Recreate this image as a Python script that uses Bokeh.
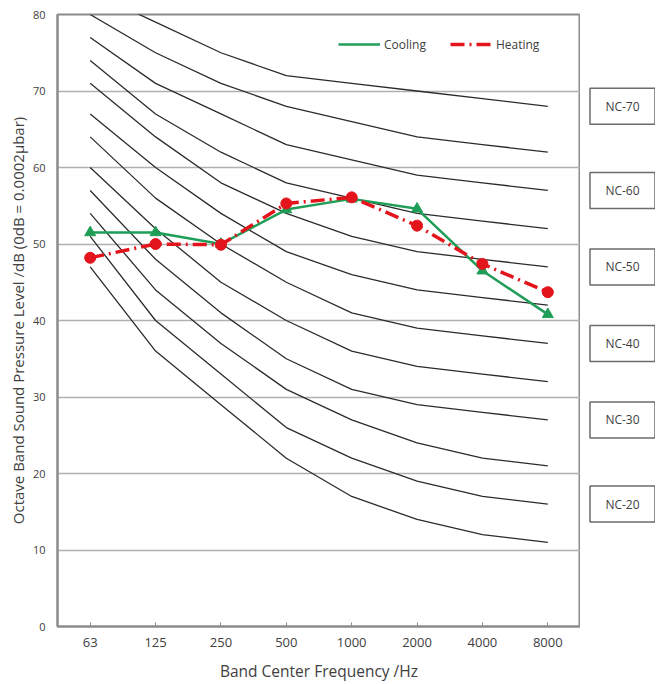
from bokeh.plotting import figure
from bokeh.models import Range1d, FixedTicker, Legend, LegendItem
from bokeh.layouts import row
from bokeh.core.properties import value
from bokeh.embed import file_html
from bokeh.resources import INLINE

# ---------------- data ----------------
freqs = ["63", "125", "250", "500", "1000", "2000", "4000", "8000"]
cooling = [51.5, 51.5, 50.0, 54.5, 55.9, 54.6, 46.5, 40.8]
heating = [48.2, 50.0, 49.9, 55.3, 56.1, 52.4, 47.4, 43.7]

nc15 = [47, 36, 29, 22, 17, 14, 12, 11]
nc20 = [51, 40, 33, 26, 22, 19, 17, 16]
nc25 = [54, 44, 37, 31, 27, 24, 22, 21]
nc30 = [57, 48, 41, 35, 31, 29, 28, 27]
nc35 = [60, 52, 45, 40, 36, 34, 33, 32]
nc40 = [64, 56, 50, 45, 41, 39, 38, 37]
nc45 = [67, 60, 54, 49, 46, 44, 43, 42]
nc50 = [71, 64, 58, 54, 51, 49, 48, 47]
nc55 = [74, 67, 62, 58, 56, 54, 53, 52]
nc60 = [77, 71, 67, 63, 61, 59, 58, 57]
nc65 = [80, 75, 71, 68, 66, 64, 63, 62]
nc70 = [83, 79, 75, 72, 71, 70, 69, 68]
nc_curves = [nc15, nc20, nc25, nc30, nc35, nc40, nc45, nc50, nc55, nc60, nc65, nc70]

nc_label_names = ["NC-70", "NC-60", "NC-50", "NC-40", "NC-30", "NC-20"]
nc_label_curves = [nc70, nc60, nc50, nc40, nc30, nc20]

y_ticks = [0, 10, 20, 30, 40, 50, 60, 70, 80]

FONT = "Open Sans"
TXT = "#404040"
GRAY = "#8c8c8c"

# ---------------- main figure ----------------
p = figure(x_range=freqs, y_range=Range1d(0, 80),
           frame_width=523, frame_height=612,
           min_border_left=57, min_border_right=0,
           min_border_top=14, min_border_bottom=58,
           output_backend="svg", toolbar_location=None,
           background_fill_color="white", border_fill_color="white")

p.outline_line_color = GRAY
p.outline_line_width = 2

p.xgrid.grid_line_color = None
p.ygrid.grid_line_color = "#b0b0b0"
p.ygrid.grid_line_width = 1.5
p.yaxis.ticker = FixedTicker(ticks=y_ticks)

for ax in (p.xaxis[0], p.yaxis[0]):
    ax.axis_line_color = GRAY
    ax.axis_line_width = 2
    ax.major_label_text_font = FONT
    ax.major_label_text_color = TXT
    ax.axis_label_text_font = FONT
    ax.axis_label_text_color = TXT
    ax.axis_label_text_font_style = "normal"
    ax.minor_tick_line_color = None

p.yaxis.major_tick_line_color = None
p.yaxis.major_tick_in = 0
p.yaxis.major_tick_out = 0
p.yaxis.major_label_text_font_size = "11px"
p.yaxis.major_label_standoff = 12
p.yaxis.axis_label = "Octave Band Sound Pressure Level /dB (0dB = 0.0002\u00b5bar)"
p.yaxis.axis_label_text_font_size = "15px"
p.yaxis.axis_label_standoff = 2

p.xaxis.major_tick_in = 4
p.xaxis.major_tick_out = 0
p.xaxis.major_tick_line_color = GRAY
p.xaxis.major_label_text_font_size = "13px"
p.xaxis.major_label_standoff = 11
p.xaxis.axis_label = "Band Center Frequency /Hz"
p.xaxis.axis_label_text_font_size = "15.5px"
p.xaxis.axis_label_standoff = 10

# NC curves
for curve in nc_curves:
    p.line(freqs, curve, line_color="#2b2b2b", line_width=1.3)

# data series
g_line = p.line(freqs, cooling, line_color="#1f9e57", line_width=2.5)
p.scatter(freqs, cooling, marker="triangle", size=11,
          fill_color="#1f9e57", line_color="#1f9e57")
r_line = p.line(freqs, heating, line_color="#e3141c", line_width=3.5,
                line_dash="14 5 2 5")
p.scatter(freqs, heating, marker="circle", size=11,
          fill_color="#e3141c", line_color="#e3141c")

legend = Legend(items=[LegendItem(label="Cooling", renderers=[g_line]),
                       LegendItem(label="Heating", renderers=[r_line])],
                orientation="horizontal", location=(281, 572),
                padding=5, spacing=24, glyph_width=42, label_standoff=4,
                label_text_font=FONT, label_text_font_size="12px",
                label_text_color=TXT, border_line_color=None,
                background_fill_alpha=0)
p.add_layout(legend)

# ---------------- side labels ----------------
p2 = figure(x_range=Range1d(0, 75), y_range=p.y_range,
            frame_width=75, frame_height=612,
            min_border_left=0, min_border_right=0,
            min_border_top=14, min_border_bottom=58,
            x_axis_location=None, y_axis_location=None,
            output_backend="svg", toolbar_location=None)
p2.grid.visible = False
p2.outline_line_color = None

label_y = [c[-1] for c in nc_label_curves]
label_x = [42] * len(label_y)
p2.rect(label_x, label_y, width=65, height=36,
        width_units="screen", height_units="screen",
        fill_color="white", line_color="#6b6b6b", line_width=1.5)
p2.text(label_x, label_y, text=nc_label_names, text_align="center",
        text_baseline="middle", text_font=value(FONT),
        text_font_size="12px", text_color=TXT)

layout = row(p, p2)
open("out.html", "w").write(file_html(layout, INLINE))
